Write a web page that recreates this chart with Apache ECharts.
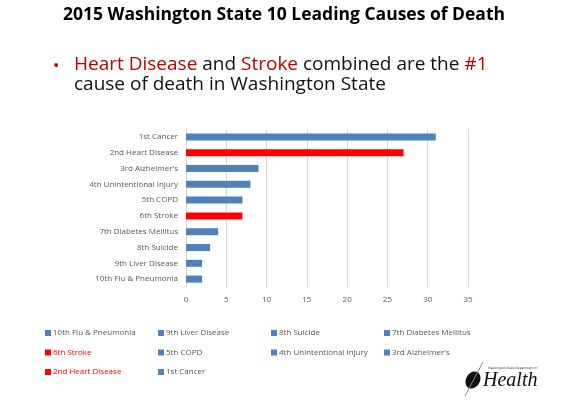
<!DOCTYPE html>
<html>
<head>
<meta charset="utf-8">
<script src="https://cdn.jsdelivr.net/npm/echarts@6/dist/echarts.min.js"></script>
<style>
  html, body { margin: 0; padding: 0; background: #fff; }
  #chart { width: 568px; height: 406px; }
</style>
</head>
<body>
<div id="chart"></div>
<script>
const causes = [
  "1st Cancer",
  "2nd Heart Disease",
  "3rd Alzheimer's",
  "4th Unintentional Injury",
  "5th COPD",
  "6th Stroke",
  "7th Diabetes Mellitus",
  "8th Suicide",
  "9th Liver Disease",
  "10th Flu & Pneumonia",
];
const values = [31, 27, 9, 8, 7, 7, 4, 3, 2, 2];
const highlighted = ["2nd Heart Disease", "6th Stroke"];
const xTicks = [0, 5, 10, 15, 20, 25, 30, 35];

// legend columns, as laid out under the chart
const legendColumns = [
  ["10th Flu & Pneumonia", "6th Stroke", "2nd Heart Disease"],
  ["9th Liver Disease", "5th COPD", "1st Cancer"],
  ["8th Suicide", "4th Unintentional Injury"],
  ["7th Diabetes Mellitus", "3rd Alzheimer's"],
];

const BLUE = "#4F81BD";
const RED = "#FF0000";
const FONT = "Open Sans";

function colorOf(name) {
  return highlighted.includes(name) ? RED : BLUE;
}

window.addEventListener("DOMContentLoaded", function () {
  const chart = echarts.init(document.getElementById("chart"));

  // one series per cause so each gets its own legend entry
  const series = causes.map((name, i) => ({
    name: name,
    type: "bar",
    stack: "all",
    barWidth: 7,
    itemStyle: { color: colorOf(name) },
    data: causes.map((c, j) => (j === i ? values[i] : "-")),
  }));

  const colLeft = [40, 153, 266, 379];
  const legends = legendColumns.map((col, k) => ({
    orient: "vertical",
    left: colLeft[k],
    top: 323,
    itemWidth: 6,
    itemHeight: 6,
    itemGap: 9.5,
    icon: "rect",
    selectedMode: false,
    textStyle: { fontFamily: FONT, fontSize: 8, color: "#595959", padding: [0, 0, 0, -3], lineHeight: 10 },
    data: col.map((name) => ({
      name: name,
      textStyle: { color: highlighted.includes(name) ? RED : "#595959" },
    })),
  }));

  const options = {
    animation: false,
    title: [
      {
        text: "2015 Washington State 10 Leading Causes of Death",
        left: "center",
        top: 1,
        textStyle: { fontFamily: FONT, fontWeight: "bold", fontSize: 17.5, color: "#000" },
      },
      {
        text: "•",
        left: 48,
        top: 53,
        textStyle: { fontFamily: FONT, fontSize: 17, color: "#C00000", fontWeight: "normal" },
      },
      {
        text: "{r|Heart Disease} and {r|Stroke} combined are the {r|#1}\ncause of death in Washington State",
        left: 69,
        top: 50,
        textStyle: {
          fontFamily: FONT,
          fontSize: 19,
          fontWeight: "normal",
          color: "#111",
          lineHeight: 20,
          rich: {
            r: { color: "#C00000", fontFamily: FONT, fontSize: 19, lineHeight: 20 },
          },
        },
      },
    ],
    legend: legends,
    grid: { left: 186, right: 100, top: 129, bottom: 119, containLabel: false },
    xAxis: {
      type: "value",
      min: xTicks[0],
      max: xTicks[xTicks.length - 1],
      interval: 5,
      axisLine: { show: false },
      axisTick: { show: false },
      axisLabel: { fontFamily: FONT, fontSize: 8, color: "#595959", margin: 9 },
      splitLine: { lineStyle: { color: "#D9D9D9", width: 1 } },
    },
    yAxis: {
      type: "category",
      inverse: true,
      data: causes,
      axisLine: { show: false },
      axisTick: { show: false },
      axisLabel: { fontFamily: FONT, fontSize: 8, color: "#595959", margin: 8 },
    },
    series: series,
    graphic: [
      {
        type: "text",
        left: 483,
        top: 371,
        style: {
          text: "Health",
          font: "italic 20px 'Liberation Serif'",
          fill: "#111",
        },
      },
      {
        type: "text",
        left: 488,
        top: 367,
        style: {
          text: "Washington State Department of",
          font: "3px 'DejaVu Sans'",
          fill: "#333",
        },
      },
      {
        type: "ellipse",
        shape: { cx: 473, cy: 380, rx: 7, ry: 9 },
        rotation: -0.5,
        originX: 473,
        originY: 380,
        style: { fill: "#111" },
      },
      {
        type: "line",
        shape: { x1: 465, y1: 396, x2: 483, y2: 362 },
        style: { stroke: "#888", lineWidth: 1 },
      },
    ],
  };

  chart.setOption(options);
});
</script>
</body>
</html>
